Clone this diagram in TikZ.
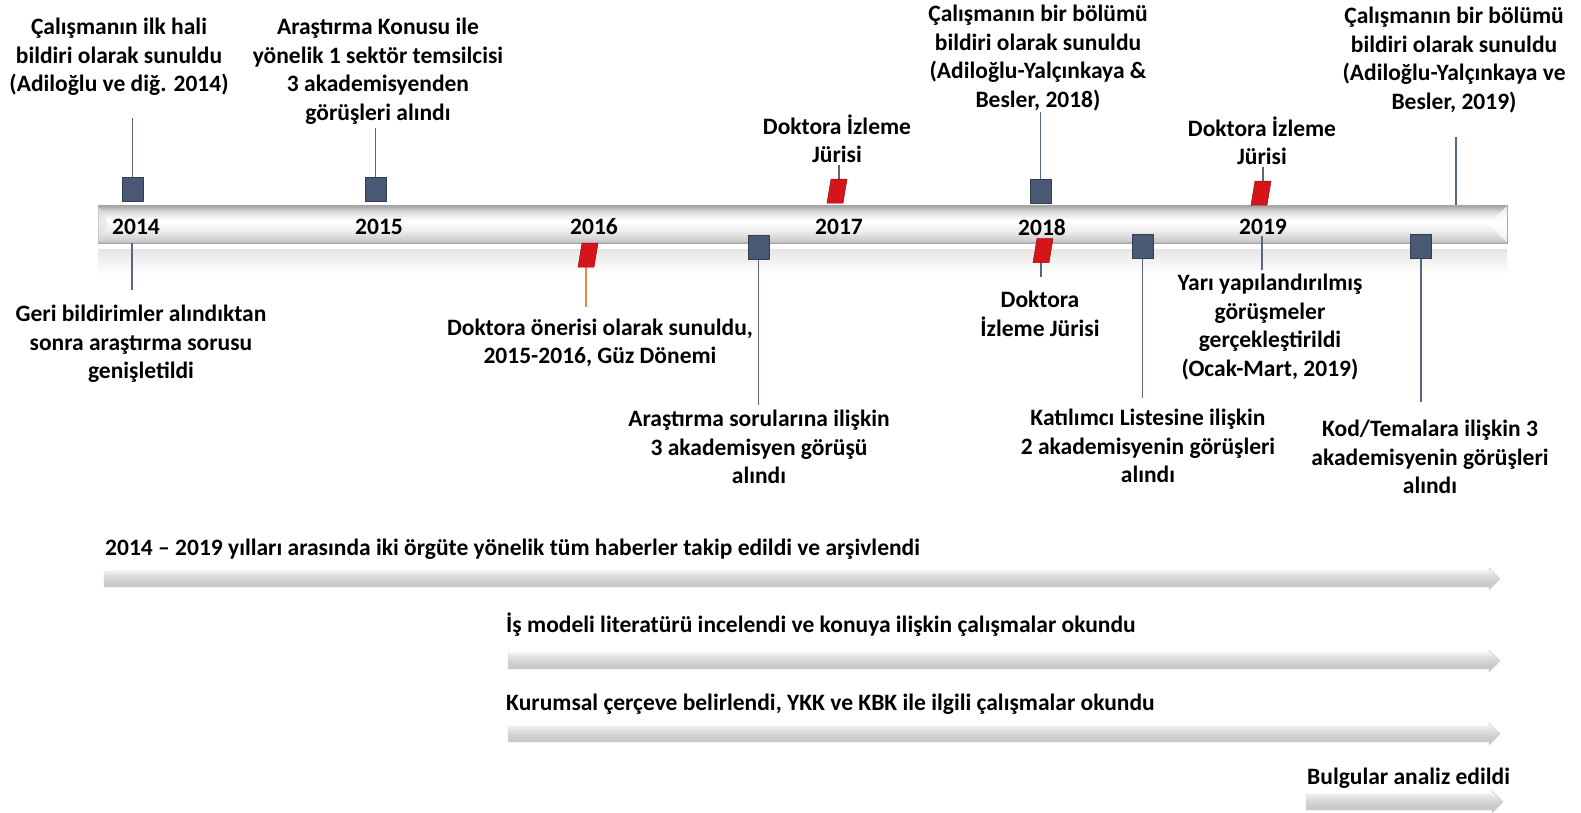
\documentclass[tikz,border=0pt]{standalone}
\usepackage{fontspec}
\setmainfont{Carlito}

\definecolor{sqfill}{RGB}{74,89,115}
\definecolor{sqedge}{RGB}{50,62,82}
\definecolor{connc}{RGB}{88,103,128}
\definecolor{flagred}{RGB}{212,22,26}
\definecolor{flagdark}{RGB}{150,10,14}
\definecolor{orangeln}{RGB}{242,135,60}

% vertical shadings (0bp = bottom; the path spans 25bp..75bp)
\pgfdeclareverticalshading{barshade}{100bp}{%
  color(0bp)=(black!30); color(25bp)=(black!30); color(28bp)=(black!20);
  color(42bp)=(black!6); color(55bp)=(white); color(66bp)=(black!14);
  color(72bp)=(black!30); color(75bp)=(black!38); color(100bp)=(black!38)}
\pgfdeclareverticalshading{arrowshade}{100bp}{%
  color(0bp)=(black!23); color(25bp)=(black!23); color(45bp)=(black!19);
  color(60bp)=(black!12); color(70bp)=(black!4); color(75bp)=(black!9); color(100bp)=(black!9)}

% red slanted milestone: name, centre x, centre y
\newcommand\redflag[3]{%
  \fill[flagred, draw=flagdark, line width=0.5pt]
    (#2-10,#3+12) -- (#2+6,#3+12) -- (#2+10,#3-12) -- (#2-6,#3-12) -- cycle;
  \coordinate (#1t) at (#2+2,#3-12);
  \coordinate (#1b) at (#2-2,#3+12);
}
% grey period arrow: name, start x, tip x, centre y
\newcommand\periodarrow[4]{%
  \shadedraw[shading=arrowshade, draw=black!20, line width=0.4pt]
    (#2,#4-8) -- (#3-11,#4-8) -- (#3-11,#4-11) -- (#3,#4) -- (#3-11,#4+11)
    -- (#3-11,#4+8) -- (#2,#4+8) -- cycle;
  \coordinate (#1) at (#2,#4);
}

\begin{document}
\begin{tikzpicture}[x=1pt,y=-1pt,
  lbl/.style={font=\fontsize{23.5}{28.5}\selectfont\bfseries, align=center, inner sep=0pt},
  yr/.style={font=\fontsize{23.5}{28.5}\selectfont\bfseries, inner sep=0pt},
  sqm/.style={draw=sqedge, line width=0.8pt, fill=sqfill, minimum width=21pt, minimum height=24pt, inner sep=0pt},
  conn/.style={draw=connc, line width=1.3pt},
]
\useasboundingbox (0,0) rectangle (1581,812);

% main time bar with its reflection
\shade[top color=black!10, bottom color=white] (98,249) rectangle (1507,274);
\node[minimum width=1409pt, minimum height=38pt, inner sep=0pt,
      shading=barshade, draw=black!35, line width=0.6pt]
      (bar) at (802.5,224) {};
\fill[white, opacity=0.7] (1507,206) -- (1488,224) -- (1507,242) -- cycle;
\fill[black!12, opacity=0.6] (98,206) -- (108,224) -- (98,242) -- cycle;

% years
\node[yr] (y14) at (136,227) {2014};
\node[yr] (y15) at (379,227) {2015};
\node[yr] (y16) at (594,227) {2016};
\node[yr] (y17) at (839,227) {2017};
\node[yr] (y18) at (1042,227) {2018};
\node[yr] (y19) at (1263,227) {2019};

% milestone texts above the bar
\node[lbl] (t1) at (119,57) {Çalışmanın ilk hali\\bildiri olarak sunuldu\\(Adiloğlu ve diğ. 2014)};
\node[lbl] (t2) at (378,71) {Araştırma Konusu ile\\yönelik 1 sektör temsilcisi\\3 akademisyenden\\görüşleri alındı};
\node[lbl] (t3) at (837,139) {Doktora İzleme\\Jürisi};
\node[lbl] (t4) at (1038,58) {Çalışmanın bir bölümü\\bildiri olarak sunuldu\\(Adiloğlu-Yalçınkaya \&\\Besler, 2018)};
\node[lbl] (t5) at (1262,141) {Doktora İzleme\\Jürisi};
\node[lbl] (t6) at (1454,60) {Çalışmanın bir bölümü\\bildiri olarak sunuldu\\(Adiloğlu-Yalçınkaya ve\\Besler, 2019)};

% milestone texts below the bar
\node[lbl] (t7) at (141,344) {Geri bildirimler alındıktan\\sonra araştırma sorusu\\genişletildi};
\node[lbl] (t8) at (600,343) {Doktora önerisi olarak sunuldu,\\2015-2016, Güz Dönemi};
\node[lbl] (t9) at (759,447) {Araştırma sorularına ilişkin\\3 akademisyen görüşü\\alındı};
\node[lbl] (t10) at (1040,314) {Doktora\\İzleme Jürisi};
\node[lbl] (t11) at (1270,327) {Yarı yapılandırılmış\\görüşmeler\\gerçekleştirildi\\(Ocak-Mart, 2019)};
\node[lbl] (t12) at (1148,446) {Katılımcı Listesine ilişkin\\2 akademisyenin görüşleri\\alındı};
\node[lbl] (t13) at (1430,457) {Kod/Temalara ilişkin 3\\akademisyenin görüşleri\\alındı};

% free ends of the leader lines
\coordinate (c1) at (132.5,118);
\coordinate (c2) at (375.5,128);
\coordinate (c3) at (839,165);
\coordinate (c4) at (1040.5,112);
\coordinate (c5) at (1263,167);
\coordinate (c6) at (1456,137);
\coordinate (c7) at (132,290);
\coordinate (c8) at (586,307);
\coordinate (c9) at (758.5,405);
\coordinate (c10) at (1041,277);
\coordinate (c11a) at (1262,236);
\coordinate (c11) at (1262,270);
\coordinate (c12) at (1142.5,398);
\coordinate (c13) at (1421,402);

% leader lines
\draw[conn] (c1) -- (132.5,177);
\draw[conn] (c2) -- (375.5,177);
\draw[conn] (c3) -- (839,179);
\draw[conn] (c4) -- (1040.5,180);
\draw[conn] (c5) -- (1263,181);
\draw[conn] (c6) -- (c6 |- bar.north);
\draw[conn] (c7 |- bar.south) -- (c7);
\draw[draw=orangeln, line width=1.3pt] (586,267) -- (c8);
\draw[conn] (758.5,259) -- (c9);
\draw[conn] (1041,262) -- (c10);
\draw[conn] (c11a) -- (c11);
\draw[conn] (1142.5,258) -- (c12);
\draw[conn] (1421,258) -- (c13);

% square milestones
\node[sqm] (sq1) at (132.5,189.5) {};
\node[sqm] (sq2) at (375.5,189.5) {};
\node[sqm] (sq3) at (1040.5,191.5) {};
\node[sqm] (sq4) at (758.5,247) {};
\node[sqm] (sq5) at (1142.5,246) {};
\node[sqm] (sq6) at (1421,246) {};

% red milestones
\redflag{f1}{837}{191}
\redflag{f2}{1261}{193}
\redflag{f3}{588}{255}
\redflag{f4}{1043}{250.5}

% activity periods
\node[lbl, anchor=west] (a1t) at (105,549) {2014 – 2019 yılları arasında iki örgüte yönelik tüm haberler takip edildi ve arşivlendi};
\periodarrow{a1}{104}{1500}{579}
\node[lbl, anchor=west] (a2t) at (506,625) {İş modeli literatürü incelendi ve konuya ilişkin çalışmalar okundu};
\periodarrow{a2}{508}{1500}{661}
\node[lbl, anchor=west] (a3t) at (506,704) {Kurumsal çerçeve belirlendi, YKK ve KBK ile ilgili çalışmalar okundu};
\periodarrow{a3}{508}{1500}{734}
\node[lbl, anchor=west] (a4t) at (1307,778) {Bulgular analiz edildi};
\periodarrow{a4}{1306}{1503}{802}
\end{tikzpicture}
\end{document}
